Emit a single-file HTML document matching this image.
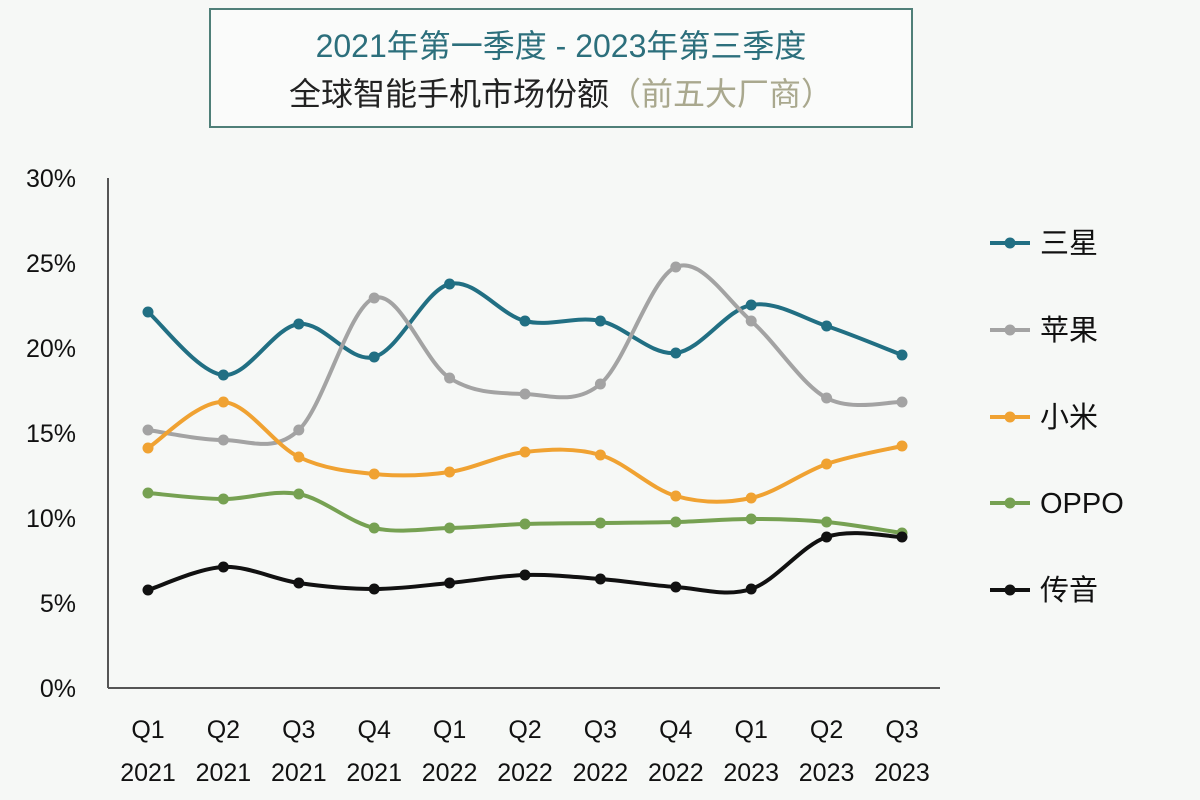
<!DOCTYPE html>
<html><head><meta charset="utf-8">
<style>
body{margin:0;width:1200px;height:800px;background:#f6f8f6;overflow:hidden;font-family:"Liberation Sans","Noto Sans CJK SC",sans-serif;}
</style></head><body>
<svg id="s" width="1200" height="800" xmlns="http://www.w3.org/2000/svg" style="position:absolute;left:0;top:0">
<rect x="210" y="9" width="702" height="118" fill="#fafbfa" stroke="#4f7f78" stroke-width="2"/>
<text x="561" y="57" text-anchor="middle" font-size="32" fill="#2c6f7c" font-family="Liberation Sans,Noto Sans CJK SC,sans-serif">2021年第一季度 - 2023年第三季度</text>
<text x="561" y="105" text-anchor="middle" font-size="32" fill="#222" font-family="Liberation Sans,Noto Sans CJK SC,sans-serif">全球智能手机市场份额<tspan fill="#a9a88e">（前五大厂商）</tspan></text>
<g font-size="25" fill="#111" text-anchor="end" font-family="Liberation Sans,sans-serif">
<text x="76" y="187">30%</text><text x="76" y="272">25%</text><text x="76" y="357">20%</text>
<text x="76" y="442">15%</text><text x="76" y="527">10%</text><text x="76" y="612">5%</text><text x="76" y="697">0%</text>
</g>
<line x1="108" y1="178" x2="108" y2="688" stroke="#555" stroke-width="2"/>
<line x1="108" y1="688" x2="940" y2="688" stroke="#555" stroke-width="2"/>
<g id="xl" font-size="25" fill="#111" text-anchor="middle" font-family="Liberation Sans,sans-serif"></g>
<g id="lines"></g>
<g font-size="29" fill="#111" font-family="Liberation Sans,Noto Sans CJK SC,sans-serif">
<text x="1040" y="253">三星</text><text x="1040" y="340">苹果</text><text x="1040" y="427">小米</text>
<text x="1040" y="513">OPPO</text><text x="1040" y="600">传音</text>
</g>
</svg>
<script>
var X=[],i;for(i=0;i<11;i++)X.push(148+i*75.4);
var q=["Q1","Q2","Q3","Q4","Q1","Q2","Q3","Q4","Q1","Q2","Q3"],yr=["2021","2021","2021","2021","2022","2022","2022","2022","2023","2023","2023"];
var xl=document.getElementById('xl'),h='';
for(i=0;i<11;i++){h+='<text x="'+X[i]+'" y="738">'+q[i]+'</text><text x="'+X[i]+'" y="781">'+yr[i]+'</text>';}
xl.innerHTML=h;
var S=[
["#216f83",[312,375,324,357,284,321,321,353,305,326,355],243],
["#a3a3a3",[430,440,430,298,378,394,384,267,321,398,402],330],
["#f0a232",[448,402,457,474,472,452,455,496,498,464,446],417],
["#76a152",[493,499,494,528,528,524,523,522,519,522,533],503],
["#111111",[590,567,583,589,583,575,579,587,589,537,537],590]];
var g='';
S.forEach(function(s){var Y=s[1],d='M'+X[0]+' '+Y[0];
for(var k=0;k<10;k++){var p0=k?k-1:0,p3=k+2>10?10:k+2;
var c1x=X[k]+(X[k+1]-X[p0])/6,c1y=Y[k]+(Y[k+1]-Y[p0])/6,c2x=X[k+1]-(X[p3]-X[k])/6,c2y=Y[k+1]-(Y[p3]-Y[k])/6;
d+=' C'+c1x+' '+c1y+' '+c2x+' '+c2y+' '+X[k+1]+' '+Y[k+1];}
g+='<path d="'+d+'" fill="none" stroke="'+s[0]+'" stroke-width="4"/>';
for(var k=0;k<11;k++)g+='<circle cx="'+X[k]+'" cy="'+Y[k]+'" r="5.5" fill="'+s[0]+'"/>';
g+='<line x1="990" y1="'+s[2]+'" x2="1030" y2="'+s[2]+'" stroke="'+s[0]+'" stroke-width="4"/><circle cx="1010" cy="'+s[2]+'" r="5.5" fill="'+s[0]+'"/>';
});
document.getElementById('lines').innerHTML=g;
</script>
</body></html>
